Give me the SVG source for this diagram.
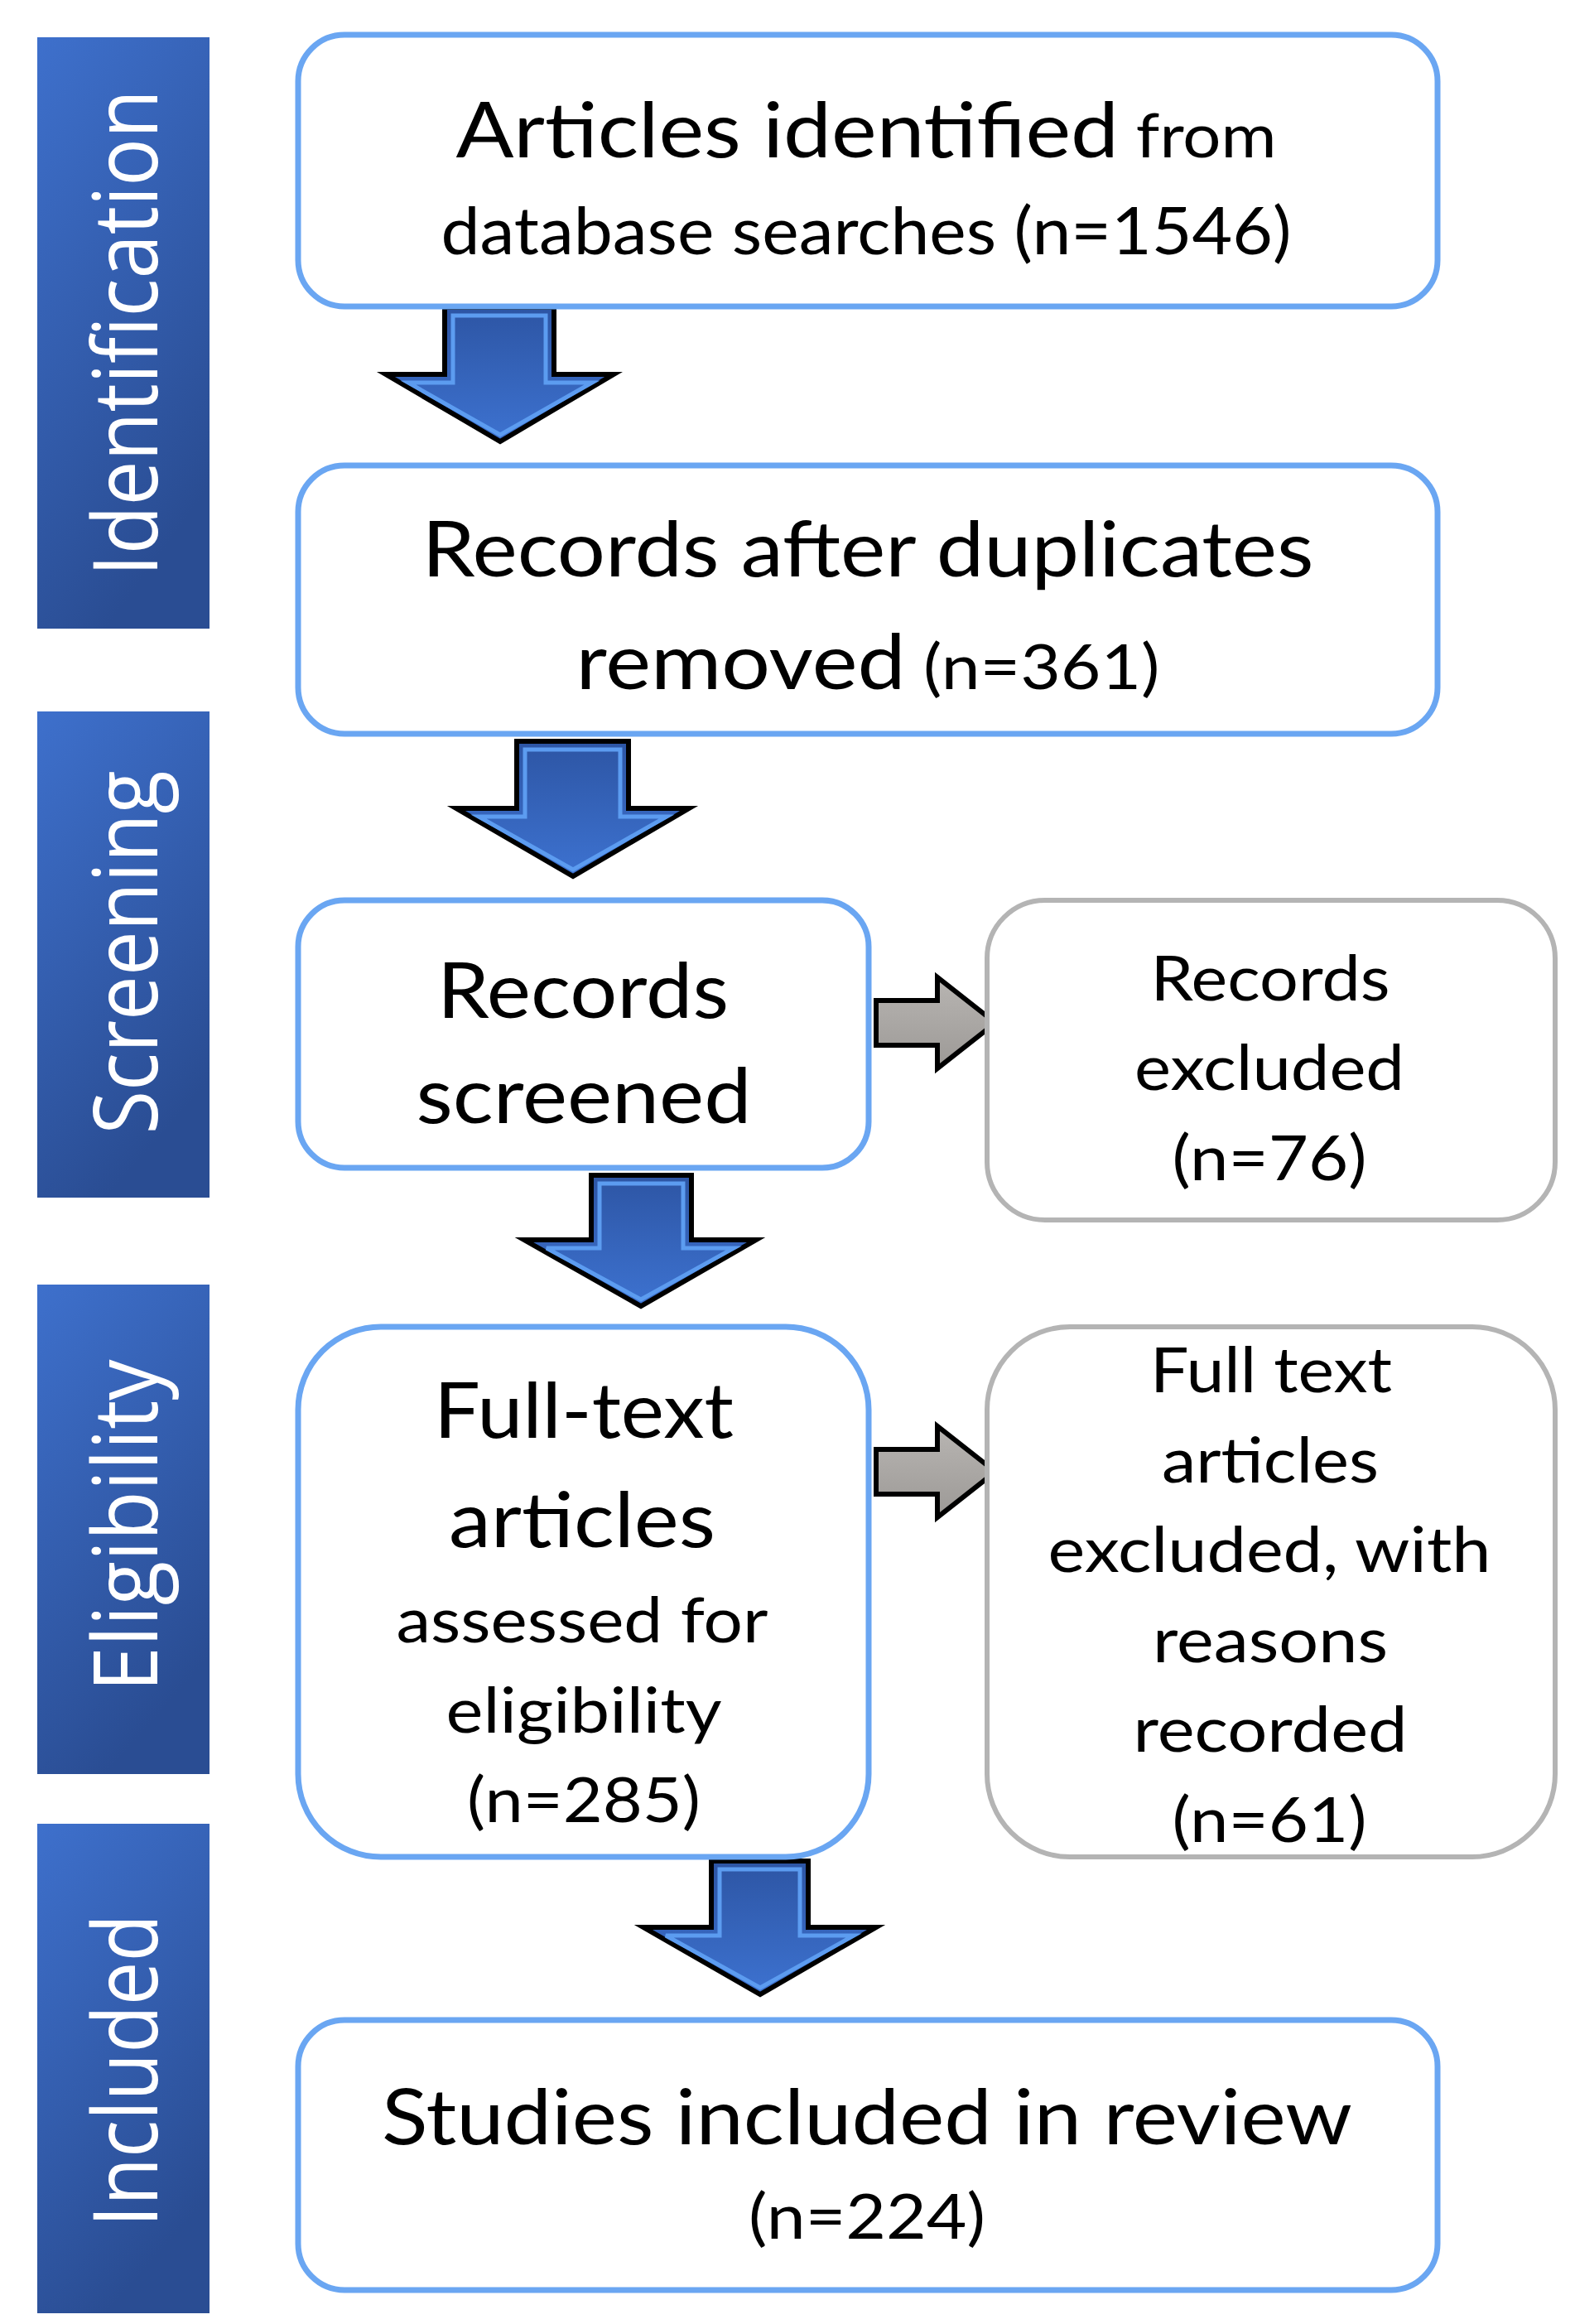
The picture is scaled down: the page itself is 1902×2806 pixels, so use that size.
<svg xmlns="http://www.w3.org/2000/svg" width="1902" height="2806" viewBox="0 0 1902 2806">
<style>
.box{fill:#fff;stroke:#6aa6f2;stroke-width:7}
.gbox{fill:#fff;stroke:#b4b4b4;stroke-width:6}
.t{font-family:Lato,"Open Sans",sans-serif;fill:#000;text-anchor:middle}
.s{font-family:"Open Sans",sans-serif;fill:#fff;text-anchor:middle;font-size:108px}
.ba{fill:url(#bg);stroke:#000;stroke-width:6;stroke-linejoin:miter}
.bi{fill:none;stroke:#5c9cf0;stroke-width:5}
.ga{fill:url(#gg);stroke:#000;stroke-width:6}
</style>
<defs>
<linearGradient id="sb" x1="0" y1="0" x2="0.4" y2="1"><stop offset="0" stop-color="#3e70cc"/><stop offset="1" stop-color="#2a4d93"/></linearGradient>
<linearGradient id="bg" x1="0" y1="0" x2="0" y2="1"><stop offset="0" stop-color="#2d55a4"/><stop offset="1" stop-color="#3d72d0"/></linearGradient>
<linearGradient id="gg" x1="0" y1="0" x2="0" y2="1"><stop offset="0" stop-color="#b8b5b2"/><stop offset="1" stop-color="#9c9996"/></linearGradient>
</defs>
<g id="sidebars">
<rect x="45" y="45" width="208" height="714" fill="url(#sb)"/>
<rect x="45" y="859" width="208" height="587" fill="url(#sb)"/>
<rect x="45" y="1551" width="208" height="591" fill="url(#sb)"/>
<rect x="45" y="2202" width="208" height="591" fill="url(#sb)"/>
<text class="s" transform="translate(190,402) rotate(-90)" textLength="588" lengthAdjust="spacingAndGlyphs">Identification</text>
<text class="s" transform="translate(190,1150) rotate(-90)" textLength="439" lengthAdjust="spacingAndGlyphs">Screening</text>
<text class="s" transform="translate(190,1842) rotate(-90)" textLength="401" lengthAdjust="spacingAndGlyphs">Eligibility</text>
<text class="s" transform="translate(190,2500) rotate(-90)" textLength="378" lengthAdjust="spacingAndGlyphs">Included</text>
</g>
<g id="connectors">
<polygon class="ba" points="537,371 669,371 669,452 741,452 604,533 466,452 537,452"/>
<polygon class="bi" points="547,381 659,381 659,462 715,462 604,525 493,462 547,462"/>
<polygon class="ba" points="624,895 759,895 759,976 832,976 692,1058 551,976 624,976"/>
<polygon class="bi" points="634,905 749,905 749,986 805,986 692,1050 578,986 634,986"/>
<polygon class="ba" points="714,1419 835,1419 835,1497 913,1497 774,1577 633,1497 714,1497"/>
<polygon class="bi" points="724,1429 825,1429 825,1507 886,1507 774,1569 660,1507 724,1507"/>
<polygon class="ba" points="859,2247 976,2247 976,2327 1058,2327 918,2408 777,2327 859,2327"/>
<polygon class="bi" points="869,2257 966,2257 966,2337 1031,2337 918,2400 804,2337 869,2337"/>
<polygon class="ga" points="1058,1208 1132,1208 1132,1180 1202,1235 1132,1290 1132,1262 1058,1262"/>
<polygon class="ga" points="1058,1750 1132,1750 1132,1722 1202,1777 1132,1832 1132,1804 1058,1804"/>
</g>
<g id="n1">
<rect class="box" x="360" y="42" width="1376" height="328" rx="56"/>
<text class="t" x="1046" y="190" textLength="991" lengthAdjust="spacingAndGlyphs"><tspan font-size="94">Articles identified</tspan><tspan font-size="74"> from</tspan></text>
<text class="t" x="1046" y="307" font-size="80" textLength="1027" lengthAdjust="spacingAndGlyphs">database searches (n=1546)</text>
</g>
<g id="n2">
<rect class="box" x="360" y="562" width="1376" height="324" rx="56"/>
<text class="t" x="1048" y="696" font-size="94" textLength="1077" lengthAdjust="spacingAndGlyphs">Records after duplicates</text>
<text class="t" x="1048" y="832" textLength="705" lengthAdjust="spacingAndGlyphs"><tspan font-size="94">removed</tspan><tspan font-size="76"> (n=361)</tspan></text>
</g>
<g id="n3">
<rect class="box" x="360" y="1087" width="689" height="323" rx="56"/>
<text class="t" x="704" y="1229" font-size="94" textLength="352" lengthAdjust="spacingAndGlyphs">Records</text>
<text class="t" x="705" y="1356" font-size="94" textLength="405" lengthAdjust="spacingAndGlyphs">screened</text>
</g>
<g id="n4">
<rect class="gbox" x="1192" y="1087" width="686" height="386" rx="70"/>
<text class="t" x="1534" y="1208" font-size="76" textLength="289" lengthAdjust="spacingAndGlyphs">Records</text>
<text class="t" x="1533" y="1316" font-size="76" textLength="326" lengthAdjust="spacingAndGlyphs">excluded</text>
<text class="t" x="1533" y="1425" font-size="76" textLength="235" lengthAdjust="spacingAndGlyphs">(n=76)</text>
</g>
<g id="n5">
<rect class="box" x="360" y="1602" width="689" height="640" rx="100"/>
<text class="t" x="705" y="1736" font-size="94" textLength="362" lengthAdjust="spacingAndGlyphs">Full-text</text>
<text class="t" x="703" y="1868" font-size="94" textLength="322" lengthAdjust="spacingAndGlyphs">articles</text>
<text class="t" x="703" y="1983" font-size="76" textLength="449" lengthAdjust="spacingAndGlyphs">assessed for</text>
<text class="t" x="705" y="2092" font-size="76" textLength="333" lengthAdjust="spacingAndGlyphs">eligibility</text>
<text class="t" x="705" y="2200" font-size="76" textLength="282" lengthAdjust="spacingAndGlyphs">(n=285)</text>
</g>
<g id="n6">
<rect class="gbox" x="1192" y="1602" width="686" height="640" rx="100"/>
<text class="t" x="1535" y="1681" font-size="76" textLength="292" lengthAdjust="spacingAndGlyphs">Full text</text>
<text class="t" x="1534" y="1790" font-size="76" textLength="262" lengthAdjust="spacingAndGlyphs">articles</text>
<text class="t" x="1533" y="1898" font-size="76" textLength="535" lengthAdjust="spacingAndGlyphs">excluded, with</text>
<text class="t" x="1534" y="2007" font-size="76" textLength="284" lengthAdjust="spacingAndGlyphs">reasons</text>
<text class="t" x="1534" y="2115" font-size="76" textLength="331" lengthAdjust="spacingAndGlyphs">recorded</text>
<text class="t" x="1533" y="2224" font-size="76" textLength="235" lengthAdjust="spacingAndGlyphs">(n=61)</text>
</g>
<g id="n7">
<rect class="box" x="360" y="2439" width="1376" height="326" rx="56"/>
<text class="t" x="1047" y="2589" font-size="94" textLength="1172" lengthAdjust="spacingAndGlyphs">Studies included in review</text>
<text class="t" x="1047" y="2703" font-size="76" textLength="286" lengthAdjust="spacingAndGlyphs">(n=224)</text>
</g>
</svg>
